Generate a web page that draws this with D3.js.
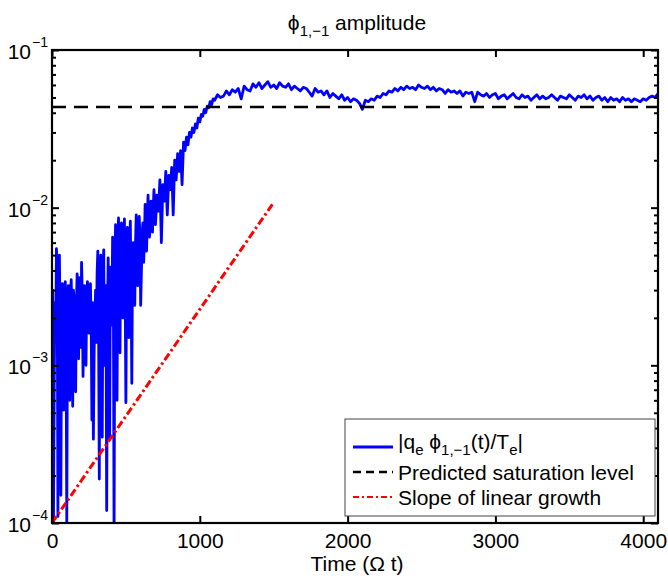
<!DOCTYPE html>
<html><head><meta charset="utf-8">
<script src="https://cdn.jsdelivr.net/npm/d3@7/dist/d3.min.js"></script>
<style>body{margin:0;background:#fff}text{font-family:"Liberation Sans",Arial,Helvetica,sans-serif;}</style>
</head><body>
<script>
// |q_e phi_{1,-1}(t)/T_e| : [time, amplitude]
const ampData = [
[0,1.2e-3],[5,3.0e-3],[10,1.0e-4],[15,8.0e-4],[20,2.5e-3],[25,1.5e-3],[30,5.5e-3],[35,4.0e-3],[40,1.1e-4],[45,2.8e-3],
[50,5.0e-3],[55,1.8e-3],[60,1.5e-4],[65,2.5e-3],[70,3.3e-3],[75,1.2e-3],[80,5.2e-4],[85,2.8e-3],[90,3.4e-3],[95,1.5e-3],
[100,1.0e-4],[105,2.0e-3],[110,3.2e-3],[115,1.4e-3],[120,6.0e-4],[125,2.9e-3],[130,3.5e-3],[135,1.8e-3],[140,5.5e-4],[145,3.0e-3],
[150,2.6e-3],[155,1.2e-3],[160,6.8e-4],[165,2.4e-3],[170,3.8e-3],[175,2.0e-3],[180,1.1e-3],[185,3.6e-3],[190,2.2e-3],[195,1.3e-3],
[200,4.5e-3],[205,2.7e-3],[210,8.5e-4],[215,2.2e-3],[220,3.2e-3],[225,1.5e-3],[230,1.0e-3],[235,2.8e-3],[240,3.4e-3],[245,2.3e-3],
[250,1.6e-3],[255,3.0e-3],[260,3.3e-3],[265,1.9e-3],[270,4.5e-4],[275,2.5e-3],[280,3.4e-4],[285,1.2e-3],[290,2.0e-3],[295,3.0e-3],
[300,1.4e-3],[305,3.8e-3],[310,5.3e-3],[315,2.0e-3],[320,1.9e-4],[325,3.5e-3],[330,5.0e-3],[335,1.4e-3],[340,3.5e-4],[345,4.0e-3],
[350,5.4e-3],[355,1.0e-3],[360,2.2e-3],[365,3.2e-3],[370,1.2e-4],[375,2.0e-3],[380,4.8e-3],[385,1.5e-3],[390,3.4e-4],[395,4.2e-3],
[400,3.0e-3],[405,1.8e-3],[410,6.5e-3],[415,3.4e-3],[420,8.0e-5],[425,4.0e-3],[430,7.8e-3],[435,2.5e-3],[440,6.0e-4],[445,5.5e-3],
[450,8.6e-3],[455,3.0e-3],[460,1.2e-3],[465,6.2e-3],[470,8.0e-3],[475,3.5e-3],[480,2.0e-3],[485,5.0e-3],[490,8.5e-3],[495,3.0e-3],
[500,5.8e-4],[505,4.2e-3],[510,7.5e-3],[515,2.6e-3],[520,1.5e-3],[525,5.0e-3],[530,8.2e-3],[535,3.2e-3],[540,7.7e-4],[545,4.8e-3],
[550,6.0e-3],[555,3.5e-3],[560,2.4e-3],[565,6.0e-3],[570,9.0e-3],[575,4.5e-3],[580,3.2e-3],[585,5.5e-3],[590,8.8e-3],[595,6.5e-3],
[600,2.4e-3],[605,4.0e-3],[610,7.0e-3],[615,8.0e-3],[620,4.5e-3],[625,6.0e-3],[630,1.05e-2],[635,7.5e-3],[640,5.3e-3],[645,9.0e-3],
[650,1.2e-2],[655,8.0e-3],[660,6.5e-3],[665,9.5e-3],[670,1.1e-2],[675,8.5e-3],[680,7.0e-3],[685,1.0e-2],[690,1.3e-2],[695,1.05e-2],
[700,7.8e-3],[710,1.2e-2],[720,9.5e-3],[730,1.5e-2],[740,6.0e-3],[750,1.4e-2],[760,1.1e-2],[770,1.7e-2],[780,9.0e-3],[790,1.6e-2],
[800,1.3e-2],[810,1.8e-2],[820,9.0e-3],[830,2.0e-2],[840,1.5e-2],[850,2.2e-2],[860,1.7e-2],[870,2.3e-2],[880,1.4e-2],[890,2.6e-2],
[900,2.3e-2],[910,2.8e-2],[920,2.5e-2],[930,3.0e-2],[940,2.8e-2],[950,3.2e-2],[960,3.0e-2],[970,3.4e-2],[980,3.2e-2],[990,3.7e-2],
[1000,3.5e-2],[1010,3.9e-2],[1020,3.8e-2],[1030,4.2e-2],[1040,4.0e-2],[1050,4.4e-2],[1060,4.3e-2],[1070,4.7e-2],[1080,4.5e-2],[1090,4.9e-2],
[1100,0.048],[1120,0.052],[1140,0.050],[1160,0.051],[1180,0.055],[1200,0.052],[1220,0.056],[1240,0.054],[1260,0.057],[1280,0.049],
[1300,0.059],[1320,0.056],[1340,0.055],[1360,0.061],[1380,0.058],[1400,0.062],[1420,0.057],[1440,0.060],[1460,0.063],[1480,0.058],
[1500,0.060],[1520,0.057],[1540,0.062],[1560,0.059],[1580,0.058],[1600,0.061],[1620,0.056],[1640,0.059],[1660,0.057],[1680,0.055],
[1700,0.058],[1720,0.057],[1740,0.054],[1760,0.051],[1780,0.057],[1800,0.054],[1820,0.055],[1840,0.052],[1860,0.055],[1880,0.050],
[1900,0.053],[1920,0.051],[1940,0.049],[1960,0.052],[1980,0.048],[2000,0.050],[2020,0.047],[2040,0.049],[2060,0.048],[2080,0.046],
[2100,0.042],[2120,0.048],[2140,0.047],[2160,0.049],[2180,0.048],[2200,0.051],[2220,0.050],[2240,0.053],[2260,0.052],[2280,0.055],
[2300,0.054],[2320,0.057],[2340,0.055],[2360,0.058],[2380,0.056],[2400,0.059],[2420,0.057],[2440,0.058],[2460,0.056],[2480,0.060],
[2500,0.058],[2520,0.057],[2540,0.059],[2560,0.056],[2580,0.058],[2600,0.055],[2620,0.057],[2640,0.056],[2660,0.053],[2680,0.056],
[2700,0.054],[2720,0.055],[2740,0.053],[2760,0.055],[2780,0.051],[2800,0.054],[2820,0.053],[2840,0.054],[2860,0.047],[2880,0.054],
[2900,0.052],[2920,0.051],[2940,0.053],[2960,0.050],[2980,0.052],[3000,0.053],[3020,0.049],[3040,0.051],[3060,0.052],[3080,0.049],
[3100,0.051],[3120,0.053],[3140,0.050],[3160,0.049],[3180,0.052],[3200,0.050],[3220,0.051],[3240,0.048],[3260,0.050],[3280,0.052],
[3300,0.049],[3320,0.051],[3340,0.049],[3360,0.050],[3380,0.052],[3400,0.050],[3420,0.048],[3440,0.051],[3460,0.050],[3480,0.049],
[3500,0.052],[3520,0.050],[3540,0.048],[3560,0.051],[3580,0.050],[3600,0.052],[3620,0.049],[3640,0.051],[3660,0.048],[3680,0.050],
[3700,0.051],[3720,0.048],[3740,0.050],[3760,0.047],[3780,0.050],[3800,0.048],[3820,0.049],[3840,0.047],[3860,0.050],[3880,0.048],
[3900,0.049],[3920,0.047],[3940,0.049],[3960,0.048],[3980,0.047],[4000,0.049],[4020,0.048],[4040,0.050],[4060,0.051],[4080,0.050],
[4100,0.053]
];
const saturationLevel = 0.0435;
const growthLine = [[0,1.0e-4],[1500,1.08e-2]];
const xDomain = [0,4100];
const yDomain = [1e-4,1e-1];
const xTicks = [0,1000,2000,3000,4000];
const yTicks = [1e-4,1e-3,1e-2,1e-1];
const yTickExp = ["\u22124","\u22123","\u22122","\u22121"];
const legendLabels = ["|q_e phi|","Predicted saturation level","Slope of linear growth"];

const W=668,H=578, L=52,R=658,T=50,B=523;
const svg=d3.select("body").append("svg").attr("width",W).attr("height",H);
const x=d3.scaleLinear().domain(xDomain).range([L,R]);
const y=d3.scaleLog().domain(yDomain).range([B,T]);

svg.append("clipPath").attr("id","clip").append("rect").attr("x",L).attr("y",T).attr("width",R-L).attr("height",B-T);
const plot=svg.append("g").attr("clip-path","url(#clip)");

const line=d3.line().x(d=>x(d[0])).y(d=>y(d[1]));
plot.append("path").datum(ampData).attr("d",line).attr("fill","none").attr("stroke","#0000ff").attr("stroke-width",2.8).attr("stroke-linejoin","round");
plot.append("path").datum([[xDomain[0],saturationLevel],[xDomain[1],saturationLevel]]).attr("d",line)
  .attr("fill","none").attr("stroke","#000").attr("stroke-width",2.5).attr("stroke-dasharray","14,8");
plot.append("path").datum(growthLine).attr("d",line)
  .attr("fill","none").attr("stroke","#ff0000").attr("stroke-width",3).attr("stroke-dasharray","8,3,2.5,3");

// axes
const minors=[];
[1e-4,1e-3,1e-2].forEach(d=>{for(let k=2;k<=9;k++)minors.push(d*k);});
function styleAxis(g){g.select(".domain").remove();g.selectAll("line").attr("stroke","#000").attr("stroke-width",2);}
svg.append("g").attr("transform",`translate(0,${B})`).call(d3.axisBottom(x).tickValues(xTicks).tickFormat(d3.format("d")).tickSizeInner(-7).tickSizeOuter(0).tickPadding(10))
  .call(styleAxis).call(g=>g.selectAll("text").attr("font-size",21).attr("fill","#000").style("font-family","'Liberation Sans',Arial,sans-serif"));
svg.append("g").attr("transform",`translate(0,${T})`).call(d3.axisTop(x).tickValues(xTicks).tickSizeInner(-7).tickSizeOuter(0).tickFormat(""))
  .call(styleAxis);
svg.append("g").attr("transform",`translate(${L},0)`).call(d3.axisLeft(y).tickValues(yTicks).tickSizeInner(-7).tickSizeOuter(0).tickFormat("")).call(styleAxis);
svg.append("g").attr("transform",`translate(${R},0)`).call(d3.axisRight(y).tickValues(yTicks).tickSizeInner(-7).tickSizeOuter(0).tickFormat("")).call(styleAxis);
svg.append("g").attr("transform",`translate(${L},0)`).call(d3.axisLeft(y).tickValues(minors).tickSizeInner(-4).tickSizeOuter(0).tickFormat("")).call(styleAxis);
svg.append("g").attr("transform",`translate(${R},0)`).call(d3.axisRight(y).tickValues(minors).tickSizeInner(-4).tickSizeOuter(0).tickFormat("")).call(styleAxis);

svg.append("rect").attr("x",L).attr("y",T).attr("width",R-L).attr("height",B-T).attr("fill","none").attr("stroke","#000").attr("stroke-width",2.2);

// y tick labels
yTicks.forEach((v,i)=>{
  svg.append("text").attr("x",31).attr("y",y(v)+9).attr("text-anchor","end").attr("font-size",21).text("10");
  svg.append("text").attr("x",32).attr("y",y(v)-3).attr("font-size",14).text(yTickExp[i]);
});

// title
const PHI="\u03d5";
const title=svg.append("text").attr("x",357).attr("y",30).attr("text-anchor","middle").attr("font-size",21);
title.append("tspan").text(PHI);
title.append("tspan").attr("font-size",15).attr("dy",6).text("1,\u22121");
title.append("tspan").attr("dy",-6).text(" amplitude");

// x label
svg.append("text").attr("x",357).attr("y",571).attr("text-anchor","middle").attr("font-size",21).text("Time (\u03a9 t)");

// legend
const lg=svg.append("g");
lg.append("rect").attr("x",345).attr("y",419).attr("width",310).attr("height",97).attr("fill","#fff").attr("stroke","#444").attr("stroke-width",1);
const rows=[447,472,497];
const styles=[{c:"#0000ff",w:2.8,d:null},{c:"#000",w:2.5,d:"8,5"},{c:"#ff0000",w:2,d:"6,3,2,3"}];
rows.forEach((ry,i)=>{
  const s=styles[i];
  const ln=lg.append("line").attr("x1",353).attr("x2",393).attr("y1",ry).attr("y2",ry).attr("stroke",s.c).attr("stroke-width",s.w);
  if(s.d)ln.attr("stroke-dasharray",s.d);
});
const t1=lg.append("text").attr("x",398).attr("y",rows[0]+2).attr("font-size",21);
t1.append("tspan").text("|q");
t1.append("tspan").attr("font-size",15).attr("dy",6).text("e");
t1.append("tspan").attr("dy",-6).text(" "+PHI);
t1.append("tspan").attr("font-size",15).attr("dy",6).text("1,\u22121");
t1.append("tspan").attr("dy",-6).text("(t)/T");
t1.append("tspan").attr("font-size",15).attr("dy",6).text("e");
t1.append("tspan").attr("dy",-6).text("|");
lg.append("text").attr("x",398).attr("y",rows[1]+8).attr("font-size",21).text(legendLabels[1]);
lg.append("text").attr("x",398).attr("y",rows[2]+8).attr("font-size",21).text(legendLabels[2]);
</script>
</body></html>
